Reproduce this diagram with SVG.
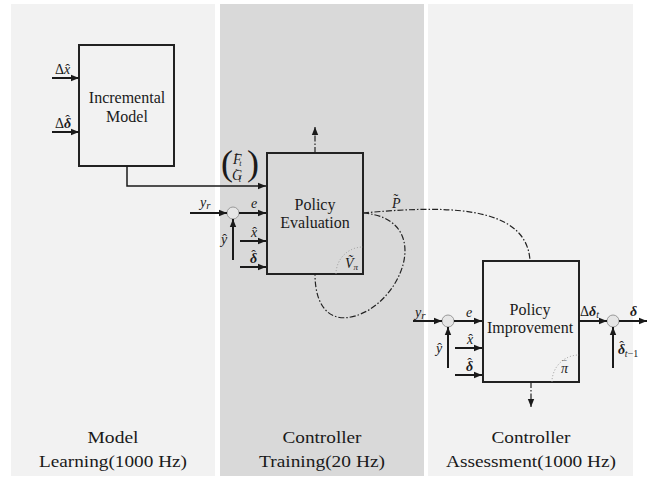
<svg xmlns="http://www.w3.org/2000/svg" width="658" height="478" viewBox="0 0 658 478">
<defs>
<marker id="ah" viewBox="0 0 10 10" refX="10" refY="5" markerWidth="8" markerHeight="8" markerUnits="userSpaceOnUse" orient="auto">
<path d="M0,1 L10,5 L0,9 z" fill="#1a1a1a"/>
</marker>
</defs>
<style>
text{font-family:"Liberation Serif","Times New Roman",serif;fill:#1a1a1a}
.box{fill:none;stroke:#222;stroke-width:2}
.ln{fill:none;stroke:#1a1a1a;stroke-width:2}
.thin{fill:none;stroke:#1a1a1a;stroke-width:1.5}
.dd{fill:none;stroke:#222;stroke-width:1.2;stroke-dasharray:6,2,1.5,2}
.dot{fill:none;stroke:#999;stroke-width:1;stroke-dasharray:1,2}
.sum{fill:#e6e6e6;stroke:#999;stroke-width:1}
.lbl{font-size:16px;text-anchor:middle}
.cap{font-size:17px;text-anchor:middle}
.m{font-size:14px;font-style:italic}
.b{font-weight:bold}
.up{font-style:normal}
</style>
<rect x="11" y="4" width="204" height="472" fill="#f2f2f2"/>
<rect x="220" y="4" width="204" height="472" fill="#d9d9d9"/>
<rect x="428" y="4" width="205" height="472" fill="#f2f2f2"/>
<text class="cap" x="113" y="443" textLength="51" lengthAdjust="spacingAndGlyphs">Model</text>
<text class="cap" x="113" y="467" textLength="148" lengthAdjust="spacingAndGlyphs">Learning(1000 Hz)</text>
<text class="cap" x="322" y="443" textLength="79" lengthAdjust="spacingAndGlyphs">Controller</text>
<text class="cap" x="322" y="467" textLength="126" lengthAdjust="spacingAndGlyphs">Training(20 Hz)</text>
<text class="cap" x="531" y="443" textLength="79" lengthAdjust="spacingAndGlyphs">Controller</text>
<text class="cap" x="531" y="467" textLength="170" lengthAdjust="spacingAndGlyphs">Assessment(1000 Hz)</text>

<g id="incremental-model">
<rect class="box" x="79" y="45" width="95" height="121"/>
<text class="lbl" x="127" y="103">Incremental</text>
<text class="lbl" x="127" y="122">Model</text>
</g>
<g id="policy-evaluation">
<rect class="box" x="267" y="153" width="96" height="121"/>
<text class="lbl" x="315" y="210">Policy</text>
<text class="lbl" x="315" y="228">Evaluation</text>
<path class="dot" d="M336,274 A27,27 0 0 1 363,247"/>
<text class="m" x="345" y="268" font-size="13">Ṽ<tspan font-size="9" dy="2">π</tspan></text>
</g>
<g id="policy-improvement">
<rect class="box" x="483" y="261" width="96" height="121"/>
<text class="lbl" x="530" y="315">Policy</text>
<text class="lbl" x="530" y="333">Improvement</text>
<path class="dot" d="M552,382 A27,27 0 0 1 579,355"/>
<text class="m" x="561" y="373" font-size="12">π<tspan class="up" dx="-6" dy="-6" font-size="9">¯</tspan></text>
</g>
<g id="sum-eval"><circle class="sum" cx="233" cy="213" r="6"/></g>
<g id="sum-impr"><circle class="sum" cx="448" cy="321" r="6"/></g>
<g id="sum-out"><circle class="sum" cx="613" cy="321" r="6"/></g>

<g id="connectors">
<path class="ln" d="M52,78 H79" marker-end="url(#ah)"/>
<path class="ln" d="M52,132 H79" marker-end="url(#ah)"/>
<path class="thin" d="M127,166 V186 H266" marker-end="url(#ah)"/>
<path class="ln" d="M190,213 H227" marker-end="url(#ah)"/>
<path class="ln" d="M239,213 H266" marker-end="url(#ah)"/>
<path class="ln" d="M233,260 V219" marker-end="url(#ah)"/>
<path class="ln" d="M240,241 H266" marker-end="url(#ah)"/>
<path class="ln" d="M240,267 H266" marker-end="url(#ah)"/>
<path class="dd" d="M315,153 V127" marker-end="url(#ah)"/>
<path class="dd" d="M363,213 C440,206 527,203 530,261"/>
<path class="dd" d="M363,213 C428,218 408,288 367,311 C335,328 315,312 315,274"/>
<path class="ln" d="M413,321 H442" marker-end="url(#ah)"/>
<path class="ln" d="M454,321 H482" marker-end="url(#ah)"/>
<path class="ln" d="M448,368 V327" marker-end="url(#ah)"/>
<path class="ln" d="M455,348 H482" marker-end="url(#ah)"/>
<path class="ln" d="M455,375 H482" marker-end="url(#ah)"/>
<path class="ln" d="M579,321 H607" marker-end="url(#ah)"/>
<path class="ln" d="M619,321 H647" marker-end="url(#ah)"/>
<path class="ln" d="M613,368 V327" marker-end="url(#ah)"/>
<path class="dd" d="M531,382 V407" marker-end="url(#ah)"/>
</g>

<g id="labels">
<text class="m" x="55" y="74"><tspan class="up">Δ</tspan>x<tspan class="up" dx="-5" dy="0">ˆ</tspan></text>
<text class="m" x="55" y="128"><tspan class="up">Δ</tspan><tspan class="b">δ</tspan><tspan class="up" dx="-6" dy="-3">ˆ</tspan></text>
<text class="m" font-size="12"><tspan class="up" x="221" y="175" font-size="36">(</tspan><tspan x="233" y="164">F</tspan><tspan class="up" dx="-6" dy="-3" font-size="11">˜</tspan><tspan font-size="8" dy="5">t</tspan><tspan x="232" y="180">G</tspan><tspan class="up" dx="-7" dy="-3" font-size="11">˜</tspan><tspan font-size="8" dy="5">t</tspan><tspan class="up" x="247" y="175" font-size="36">)</tspan></text>
<text class="m" x="200" y="207">y<tspan font-size="11" dy="2">r</tspan></text>
<text class="m" x="251" y="208">e</text>
<text class="m" x="221" y="244">y<tspan class="up" dx="-5">ˆ</tspan></text>
<text class="m" x="251" y="237">x<tspan class="up" dx="-5">ˆ</tspan></text>
<text class="m" x="250" y="263"><tspan class="b">δ</tspan><tspan class="up" dx="-6" dy="-3">ˆ</tspan></text>
<text class="m" x="392" y="208">P<tspan class="up" dx="-7" dy="-4">˜</tspan></text>
<text class="m" x="415" y="317">y<tspan font-size="11" dy="2">r</tspan></text>
<text class="m" x="466" y="317">e</text>
<text class="m" x="436" y="353">y<tspan class="up" dx="-5">ˆ</tspan></text>
<text class="m" x="467" y="344">x<tspan class="up" dx="-5">ˆ</tspan></text>
<text class="m" x="466" y="371"><tspan class="b">δ</tspan><tspan class="up" dx="-6" dy="-3">ˆ</tspan></text>
<text class="m" x="580" y="316"><tspan class="up">Δ</tspan><tspan class="b">δ</tspan><tspan font-size="10" dy="2">t</tspan></text>
<text class="m b" x="630" y="316">δ</text>
<text class="m" x="618" y="354"><tspan class="b">δ</tspan><tspan class="up" dx="-6" dy="-3">ˆ</tspan><tspan font-size="10" dx="1" dy="6">t</tspan><tspan font-size="10" class="up">−1</tspan></text>
</g>
</svg>
